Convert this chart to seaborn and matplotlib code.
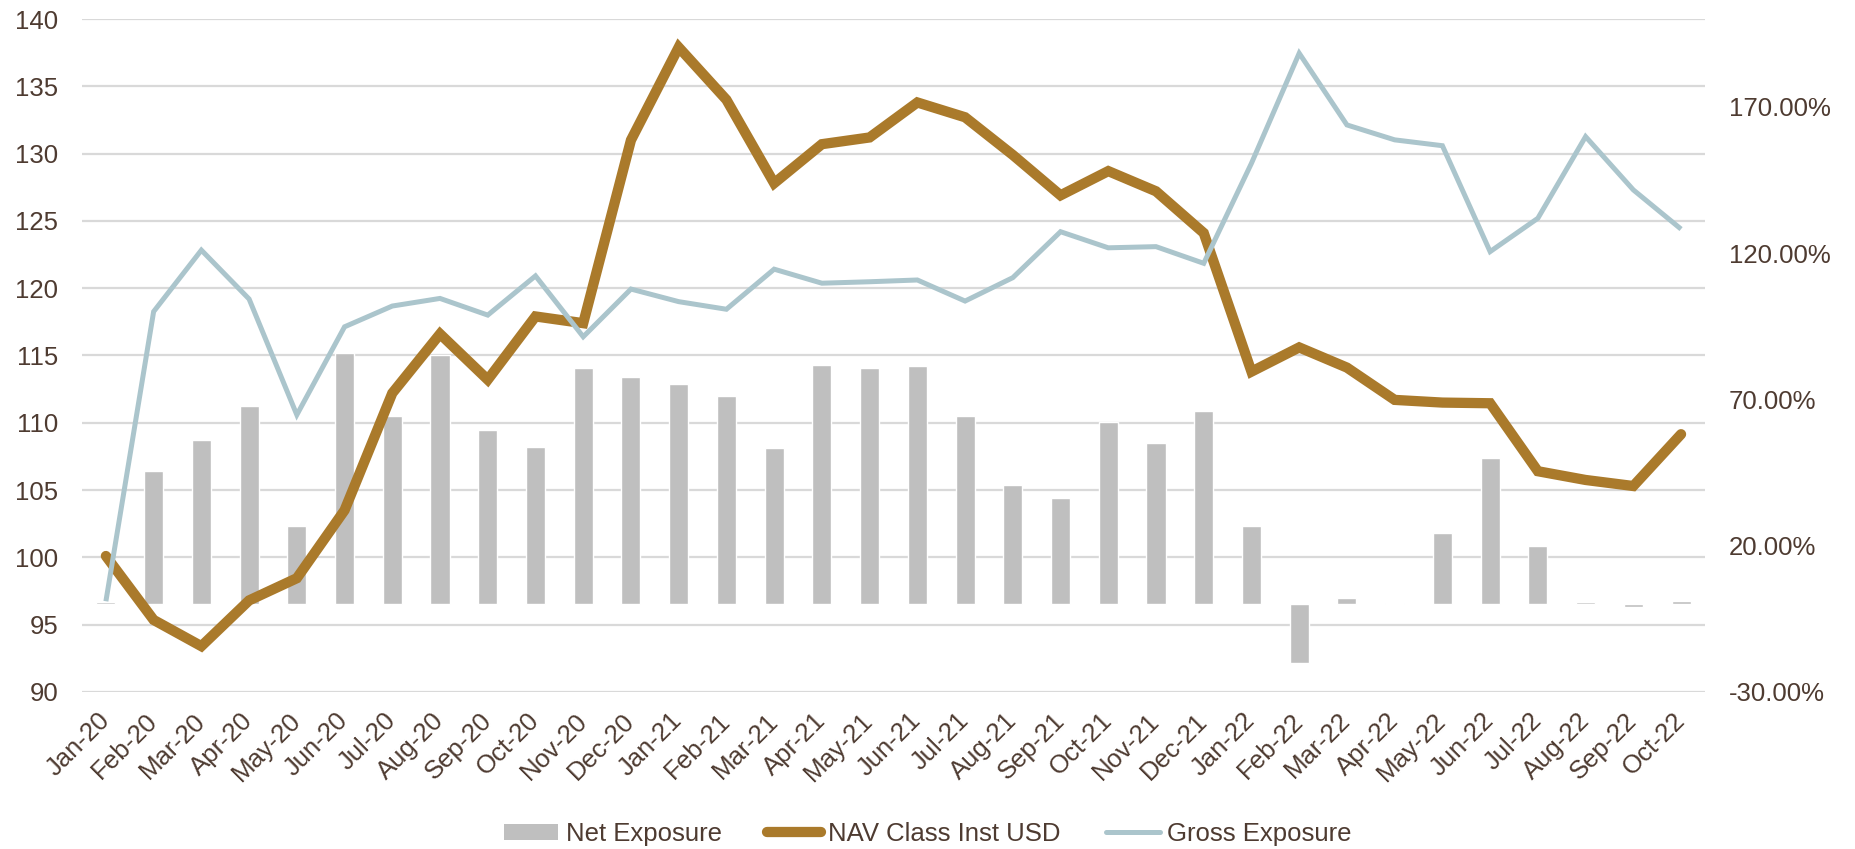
import numpy as np
import pandas as pd
import matplotlib
matplotlib.use("Agg")
import matplotlib.pyplot as plt
import seaborn as sns
from matplotlib.patches import Patch
from matplotlib.lines import Line2D
from matplotlib.ticker import FuncFormatter

months = ["Jan-20", "Feb-20", "Mar-20", "Apr-20", "May-20", "Jun-20", "Jul-20", "Aug-20",
          "Sep-20", "Oct-20", "Nov-20", "Dec-20", "Jan-21", "Feb-21", "Mar-21", "Apr-21",
          "May-21", "Jun-21", "Jul-21", "Aug-21", "Sep-21", "Oct-21", "Nov-21", "Dec-21",
          "Jan-22", "Feb-22", "Mar-22", "Apr-22", "May-22", "Jun-22", "Jul-22", "Aug-22",
          "Sep-22", "Oct-22"]

nav = [100.1, 95.35, 93.4, 96.8, 98.45, 103.5, 112.2, 116.6, 113.2, 117.9, 117.4, 131.0,
       137.9, 134.0, 127.8, 130.7, 131.2, 133.8, 132.7, 129.9, 126.9, 128.7, 127.2, 124.1,
       113.8, 115.6, 114.1, 111.7, 111.5, 111.45, 106.4, 105.75, 105.3, 109.15]

gross = [1.0, 100.0, 121.0, 104.3, 64.7, 94.8, 101.9, 104.5, 98.8, 112.2, 91.4, 107.7,
         103.4, 100.8, 114.5, 109.7, 110.2, 110.8, 103.6, 111.6, 127.3, 121.8, 122.2, 116.5,
         150.7, 188.3, 163.8, 158.7, 156.7, 120.5, 131.9, 159.8, 141.6, 128.2]

net = [0.8, 45.5, 56.0, 67.7, 26.8, 85.7, 64.3, 85.2, 59.4, 53.6, 80.6, 77.8,
       75.2, 71.3, 53.5, 81.9, 80.7, 81.5, 64.3, 40.7, 36.2, 62.2, 55.1, 66.0,
       26.7, -20.2, 2.1, 0.3, 24.3, 50.0, 20.0, 0.8, -0.9, 1.0]

left_ticks = [90, 95, 100, 105, 110, 115, 120, 125, 130, 135, 140]
right_ticks = [-30, 20, 70, 120, 170]

df = pd.DataFrame({"pos": np.arange(len(months)), "month": months,
                   "nav": nav, "gross": gross, "net": net})

C_NAV = "#AA7A2B"
C_GROSS = "#ABC5CC"
C_NET = "#BFBFBF"
C_TEXT = "#4E3B31"
C_GRID = "#D9D9D9"

sns.set_theme(style="white")
plt.rcParams["font.family"] = ["Liberation Sans", "DejaVu Sans"]
FS = 18.5
LW_NAV = 7.4
LW_GROSS = 3.6

fig = plt.figure(figsize=(18.56, 8.49), dpi=100)
ax = fig.add_axes([0.0442, 0.185, 0.8744, 0.7926])
ax_bar = ax.twinx()
ax_nav = ax.twinx()
ax_gross = ax.twinx()

ax.set_zorder(0)
ax_bar.set_zorder(1)
ax_nav.set_zorder(2)
ax_gross.set_zorder(3)
for a in (ax_bar, ax_nav, ax_gross):
    a.patch.set_visible(False)

xlim = (-0.5, len(months) - 0.5)

# gridlines + left axis labels
ax.set_ylim(90, 140)
ax.set_yticks(left_ticks)
ax.grid(axis="y", color=C_GRID, linewidth=1.6)
ax.grid(axis="x", visible=False)

# Net exposure bars (right scale)
sns.barplot(data=df, x="pos", y="net", ax=ax_bar, color=C_NET, native_scale=True,
            width=0.40, saturation=1, errorbar=None)
ax_bar.set_ylim(-30, 200)
ax_bar.set_yticks(right_ticks)
ax_bar.yaxis.set_major_formatter(FuncFormatter(lambda v, p: f"{v:.2f}%"))

# NAV line (left scale)
sns.lineplot(data=df, x="pos", y="nav", ax=ax_nav, color=C_NAV, linewidth=LW_NAV,
             solid_joinstyle="miter", solid_capstyle="round")
ax_nav.set_ylim(90, 140)
ax_nav.set_yticks([])

# Gross line (right scale)
sns.lineplot(data=df, x="pos", y="gross", ax=ax_gross, color=C_GROSS, linewidth=LW_GROSS,
             solid_joinstyle="miter", solid_capstyle="butt")
ax_gross.set_ylim(-30, 200)
ax_gross.set_yticks([])

for a in (ax, ax_bar, ax_nav, ax_gross):
    a.set_xlim(*xlim)
    a.set_xlabel("")
    a.set_ylabel("")
    for s in a.spines.values():
        s.set_visible(False)

ax.set_xticks(df["pos"])
ax.set_xticklabels(months, rotation=45, ha="right", va="center", rotation_mode="anchor")
for a in (ax_bar, ax_nav, ax_gross):
    a.tick_params(axis="x", bottom=False, labelbottom=False, top=False, labeltop=False)

ax.tick_params(axis="x", length=0, pad=18, labelsize=FS, labelcolor=C_TEXT)
ax.tick_params(axis="y", length=0, pad=17, labelsize=FS, labelcolor=C_TEXT)
ax_bar.tick_params(axis="y", length=0, pad=17, labelsize=FS, labelcolor=C_TEXT)

handles = [Patch(facecolor=C_NET, edgecolor="none"),
           Line2D([0], [0], color=C_NAV, linewidth=LW_NAV, solid_capstyle="round"),
           Line2D([0], [0], color=C_GROSS, linewidth=LW_GROSS, solid_capstyle="round")]
labels = ["Net Exposure", "NAV Class Inst USD", "Gross Exposure"]
leg = fig.legend(handles, labels, loc="center", bbox_to_anchor=(0.5, 15 / 849), ncol=3,
                 frameon=False, fontsize=FS, handlelength=2.1, handletextpad=0.3,
                 columnspacing=1.75, handleheight=0.6)
for t in leg.get_texts():
    t.set_color(C_TEXT)

fig.savefig("out.png", dpi=100)
